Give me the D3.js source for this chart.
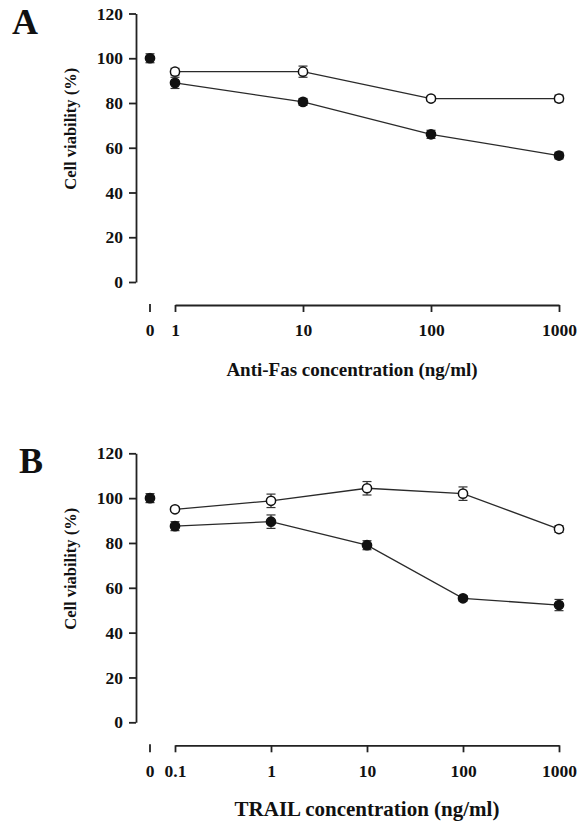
<!DOCTYPE html>
<html>
<head>
<meta charset="utf-8">
<script src="https://cdn.jsdelivr.net/npm/d3@7"></script>
<style>
  body { margin: 0; background: #fff; }
  svg text { font-family: "Liberation Serif", "Times New Roman", serif; font-weight: bold; fill: #111; }
</style>
</head>
<body>
<svg id="chart" width="585" height="822"></svg>
<script>
// ---- data ----
var yTicks = [0, 20, 40, 60, 80, 100, 120];

// panel A : anti-Fas
var aDoses = [1, 10, 100, 1000];
var aDoseLabels = ["1", "10", "100", "1000"];
var aFilled = [89, 80.5, 66, 56.5];
var aFilledErr = [2.5, 1.5, 1.8, 1.5];
var aOpen = [94, 94, 82, 82];
var aOpenErr = [1.5, 2.5, 1, 1.5];
var aControl = 100, aControlErr = 2;

// panel B : TRAIL
var bDoses = [0.1, 1, 10, 100, 1000];
var bDoseLabels = ["0.1", "1", "10", "100", "1000"];
var bFilled = [87.5, 89.5, 79, 55.3, 52.3];
var bFilledErr = [2, 3, 2, 1.2, 2.5];
var bOpen = [95, 98.8, 104.4, 102, 86.2];
var bOpenErr = [1, 3, 3, 3, 1.5];
var bControl = 100, bControlErr = 2;

var svg = d3.select("#chart");

function drawPanel(p) {
  var g = svg.append("g");
  var y = d3.scaleLinear().domain([0, 120]).range([p.bottom, p.top]);
  var x = d3.scaleLog().domain([p.doses[0], 1000]).range([175, 559]);
  var zeroX = x.range()[0] - 25;
  var axisX = 136, axisY = p.bottom + 23;

  // y axis
  var ya = g.append("g").attr("transform", "translate(" + axisX + ",0)")
    .call(d3.axisLeft(y).tickValues(yTicks).tickSize(7).tickSizeOuter(0).tickPadding(6));
  ya.selectAll("text").style("font-size", "17.5px");

  // x axis (log part)
  var xa = g.append("g").attr("transform", "translate(0," + axisY + ")")
    .call(d3.axisBottom(x).tickValues(p.doses).tickFormat(function(d, i) { return p.doseLabels[i]; })
      .tickSize(7).tickSizeOuter(0).tickPadding(12));
  xa.selectAll("text").style("font-size", "17.5px");

  // the lone zero tick
  g.append("line").attr("x1", zeroX).attr("x2", zeroX)
    .attr("y1", axisY - 1).attr("y2", axisY + 7);
  g.append("text").attr("x", zeroX).attr("y", axisY + 19).attr("dy", "0.71em")
    .attr("text-anchor", "middle").style("font-size", "17.5px").text("0");

  g.selectAll(".domain, line").attr("stroke", "#222").attr("stroke-width", 1.8);

  var line = d3.line().x(function(d) { return x(d[0]); }).y(function(d) { return y(d[1]); });

  function series(vals, errs, filled) {
    var pts = p.doses.map(function(d, i) { return [d, vals[i], errs[i]]; });
    g.append("path").datum(pts).attr("d", line)
      .attr("fill", "none").attr("stroke", "#2a2a2a").attr("stroke-width", 1.3);
    var eb = g.append("g").selectAll("g").data(pts).enter().append("g");
    eb.append("line").attr("x1", function(d) { return x(d[0]); }).attr("x2", function(d) { return x(d[0]); })
      .attr("y1", function(d) { return y(d[1] - d[2]); }).attr("y2", function(d) { return y(d[1] + d[2]); });
    [-1, 1].forEach(function(s) {
      eb.append("line").attr("x1", function(d) { return x(d[0]) - 4.5; }).attr("x2", function(d) { return x(d[0]) + 4.5; })
        .attr("y1", function(d) { return y(d[1] + s * d[2]); }).attr("y2", function(d) { return y(d[1] + s * d[2]); });
    });
    eb.selectAll("line").attr("stroke", "#333").attr("stroke-width", 1.2);
    g.append("g").selectAll("circle").data(pts).enter().append("circle")
      .attr("cx", function(d) { return x(d[0]); }).attr("cy", function(d) { return y(d[1]); })
      .attr("r", 4.6).attr("fill", filled ? "#111" : "#fff")
      .attr("stroke", "#111").attr("stroke-width", 1.5);
  }
  series(p.open, p.openErr, false);
  series(p.filled, p.filledErr, true);

  // untreated control at dose 0
  var c = g.append("g");
  c.append("line").attr("x1", zeroX).attr("x2", zeroX)
    .attr("y1", y(p.control - p.controlErr)).attr("y2", y(p.control + p.controlErr));
  [-1, 1].forEach(function(s) {
    c.append("line").attr("x1", zeroX - 4.5).attr("x2", zeroX + 4.5)
      .attr("y1", y(p.control + s * p.controlErr)).attr("y2", y(p.control + s * p.controlErr));
  });
  c.selectAll("line").attr("stroke", "#333").attr("stroke-width", 1.2);
  c.append("circle").attr("cx", zeroX).attr("cy", y(p.control)).attr("r", 4.6)
    .attr("fill", "#111").attr("stroke", "#111").attr("stroke-width", 1.5);

  // titles
  var ty = (p.top + p.bottom) / 2 - 19;
  g.append("text").attr("x", 76).attr("y", ty)
    .attr("transform", "rotate(-90,76," + ty + ")")
    .attr("text-anchor", "middle").style("font-size", "16.5px").text("Cell viability (%)");
  g.append("text").attr("x", p.titleX).attr("y", p.titleY).attr("text-anchor", "middle")
    .style("font-size", p.titleSize).text(p.title);
  g.append("text").attr("x", p.letterX).attr("y", p.top + 20).style("font-size", "36px").text(p.letter);
}

drawPanel({
  letter: "A", letterX: 12, top: 13.5, bottom: 282,
  doses: aDoses, doseLabels: aDoseLabels,
  filled: aFilled, filledErr: aFilledErr, open: aOpen, openErr: aOpenErr,
  control: aControl, controlErr: aControlErr,
  title: "Anti-Fas concentration (ng/ml)", titleX: 352, titleY: 376, titleSize: "19px"
});
drawPanel({
  letter: "B", letterX: 19, top: 453.3, bottom: 722.3,
  doses: bDoses, doseLabels: bDoseLabels,
  filled: bFilled, filledErr: bFilledErr, open: bOpen, openErr: bOpenErr,
  control: bControl, controlErr: bControlErr,
  title: "TRAIL concentration (ng/ml)", titleX: 367, titleY: 816, titleSize: "21px"
});
</script>
</body>
</html>
